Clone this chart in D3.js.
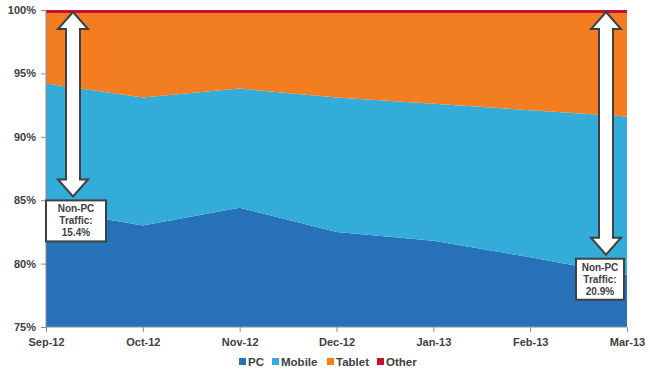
<!DOCTYPE html>
<html>
<head>
<meta charset="utf-8">
<script src="https://cdn.jsdelivr.net/npm/d3@7"></script>
<style>
  body { margin: 0; background: #fff; }
  text { font-family: 'Liberation Sans', Arial, sans-serif; font-weight: bold; fill: #404040; }
</style>
</head>
<body>
<div id="chart"></div>
<script>
// values (share of traffic, %)
var months = ['Sep-12', 'Oct-12', 'Nov-12', 'Dec-12', 'Jan-13', 'Feb-13', 'Mar-13']
var pc = [84.3, 83.0, 84.4, 82.5, 81.8, 80.5, 79.1]
var mobile = [9.9, 10.1, 9.4, 10.6, 10.8, 11.6, 12.5]
var tablet = [5.55, 6.65, 5.95, 6.65, 7.15, 7.65, 8.15]
var other = [0.25, 0.25, 0.25, 0.25, 0.25, 0.25, 0.25]
var seriesNames = ['PC', 'Mobile', 'Tablet', 'Other']
var yTicks = [75, 80, 85, 90, 95, 100]

// callouts: month, arrow bottom %, label
var callouts = [
  { month: 'Sep-12', dx: 27, bottom: 85.3, label: ['Non-PC', 'Traffic:', '15.4%'], boxW: 60, boxX: 0 },
  { month: 'Mar-13', dx: -21, bottom: 80.7, label: ['Non-PC', 'Traffic:', '20.9%'], boxW: 48, boxX: -51 }
]

var margin = { top: 10, left: 46, right: 23, bottom: 48 }
var width = 650 - margin.left - margin.right
var height = 375 - margin.top - margin.bottom

var colors = {
  PC: '#2671b8',
  Mobile: '#33acd9',
  Tablet: '#f37d21',
  Other: '#c8102e'
}

var root = d3
  .select('#chart')
  .append('svg')
  .attr('width', 650)
  .attr('height', 375)

root
  .append('defs')
  .append('clipPath')
  .attr('id', 'plot-clip')
  .append('rect')
  .attr('width', width)
  .attr('height', height)

var svg = root
  .append('g')
  .attr('transform', 'translate(' + margin.left + ',' + margin.top + ')')

var table = months.map(function(m, i) {
  return { month: m, PC: pc[i], Mobile: mobile[i], Tablet: tablet[i], Other: other[i] }
})

var xScale = d3.scalePoint().domain(months).range([0, width])
var yScale = d3.scaleLinear().domain([75, 100]).range([height, 0])

var stacked = d3.stack().keys(seriesNames)(table)

var area = d3
  .area()
  .x(d => xScale(d.data.month))
  .y0(d => yScale(Math.max(d[0], 75)))
  .y1(d => yScale(d[1]))

svg
  .append('g')
  .attr('clip-path', 'url(#plot-clip)')
  .selectAll('.layer')
  .data(stacked)
  .enter()
  .append('path')
  .attr('class', 'layer')
  .attr('d', area)
  .attr('fill', d => colors[d.key])

// axes
var yAxis = d3
  .axisLeft(yScale)
  .tickValues(yTicks)
  .tickSize(5)
  .tickFormat(d => d + '%')

var xAxis = d3.axisBottom(xScale).tickSize(5).tickPadding(6)

var yg = svg.append('g').attr('class', 'y-axis').call(yAxis)
var xg = svg
  .append('g')
  .attr('class', 'x-axis')
  .attr('transform', 'translate(0,' + height + ')')
  .call(xAxis)

svg.selectAll('.domain, .tick line').attr('stroke', '#8c8c8c')
yg.select('.domain').attr('d', 'M0,0V' + height)
xg.select('.domain').attr('d', 'M0,0H' + width)
svg.selectAll('.tick text').attr('font-size', 11).attr('fill', '#404040')
yg.selectAll('.tick text').attr('x', -10)

// arrows + callout boxes
callouts.forEach(function(c) {
  var cx = xScale(c.month) + c.dx
  var top = yScale(100) + 2
  var bot = yScale(c.bottom)
  var hw = 15
  var hh = 17
  var sw = 7
  var pts = [
    [cx, top],
    [cx + hw, top + hh],
    [cx + sw, top + hh],
    [cx + sw, bot - hh],
    [cx + hw, bot - hh],
    [cx, bot],
    [cx - hw, bot - hh],
    [cx - sw, bot - hh],
    [cx - sw, top + hh],
    [cx - hw, top + hh]
  ]
  svg
    .append('path')
    .attr('d', 'M' + pts.join('L') + 'Z')
    .attr('fill', '#fff')
    .attr('stroke', '#404040')
    .attr('stroke-width', 2)

  var bx = xScale(c.month) + c.boxX
  var by = bot + 4
  svg
    .append('rect')
    .attr('x', bx)
    .attr('y', by)
    .attr('width', c.boxW)
    .attr('height', 41)
    .attr('fill', '#fff')
    .attr('stroke', '#404040')
    .attr('stroke-width', 2)

  svg
    .selectAll(null)
    .data(c.label)
    .enter()
    .append('text')
    .attr('x', bx + c.boxW / 2)
    .attr('y', (d, i) => by + 12 + i * 12)
    .attr('text-anchor', 'middle')
    .attr('font-size', 10)
    .text(d => d)
})

// legend
var legendX = [239, 272, 327, 377]
var legend = root.append('g').attr('transform', 'translate(0,362)')

var items = legend
  .selectAll('.item')
  .data(seriesNames)
  .enter()
  .append('g')
  .attr('class', 'item')
  .attr('transform', (d, i) => 'translate(' + legendX[i] + ',0)')

items
  .append('rect')
  .attr('x', 0)
  .attr('y', -4)
  .attr('width', 7)
  .attr('height', 7)
  .attr('fill', d => colors[d])

items
  .append('text')
  .attr('x', 9)
  .attr('y', 4)
  .attr('font-size', 11.5)
  .text(d => d)
</script>
</body>
</html>
